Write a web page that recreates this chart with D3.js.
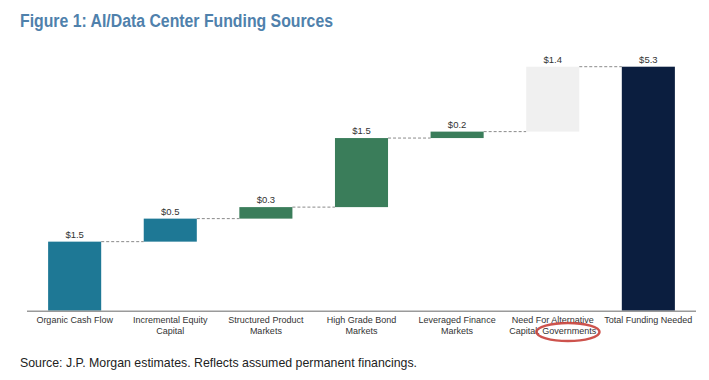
<!DOCTYPE html>
<html>
<head>
<meta charset="utf-8">
<script src="https://cdn.jsdelivr.net/npm/d3@7"></script>
<style>
  html, body { margin: 0; padding: 0; background: #fff; }
  svg { display: block; }
</style>
</head>
<body>
<svg id="chart" width="709" height="380"></svg>
<script>
const categories = [
  ["Organic Cash Flow"],
  ["Incremental Equity", "Capital"],
  ["Structured Product", "Markets"],
  ["High Grade Bond", "Markets"],
  ["Leveraged Finance", "Markets"],
  ["Need For Alternative", "Capital: Governments"],
  ["Total Funding Needed"]
];
const stepValues = [1.5, 0.5, 0.25, 1.5, 0.14, 1.41];
const totalValue = 5.3;
const valueLabels = ["$1.5", "$0.5", "$0.3", "$1.5", "$0.2", "$1.4", "$5.3"];
const barColors = ["#1E7895", "#1E7895", "#3A7D5A", "#3A7D5A", "#3A7D5A", "#F0F0F0", "#0B1E3F"];

const svg = d3.select("#chart");
const keys = categories.map((c, i) => "c" + i);

// build waterfall segments
let cum = 0;
const bars = stepValues.map((v, i) => {
  const b = { key: keys[i], y0: cum, y1: cum + v };
  cum += v;
  return b;
});
bars.push({ key: keys[6], y0: 0, y1: totalValue });

const x = d3.scaleBand().domain(keys).range([29, 694]).paddingInner(0.445).paddingOuter(0.2);
const y = d3.scaleLinear().domain([0, totalValue]).range([310.7, 66.7]);

// title
svg.append("text")
  .attr("x", 20).attr("y", 27)
  .attr("font-family", "Arial, 'Liberation Sans', sans-serif")
  .attr("font-size", 17.5).attr("font-weight", "bold")
  .attr("fill", "#4F81AC")
  .attr("textLength", 313).attr("lengthAdjust", "spacingAndGlyphs")
  .text("Figure 1: AI/Data Center Funding Sources");

// connectors
for (let i = 0; i < bars.length - 1; i++) {
  const level = bars[i].y1;
  svg.append("line")
    .attr("x1", x(bars[i].key) + x.bandwidth())
    .attr("x2", x(bars[i + 1].key))
    .attr("y1", y(level)).attr("y2", y(level))
    .attr("stroke", "#8a8a8a").attr("stroke-width", 1)
    .attr("stroke-dasharray", "3,2");
}

// bars
svg.selectAll("rect.bar").data(bars).join("rect")
  .attr("class", "bar")
  .attr("x", d => x(d.key))
  .attr("width", x.bandwidth())
  .attr("y", d => y(d.y1))
  .attr("height", d => y(d.y0) - y(d.y1))
  .attr("fill", (d, i) => barColors[i]);

// value labels
svg.selectAll("text.val").data(bars).join("text")
  .attr("class", "val")
  .attr("x", d => x(d.key) + x.bandwidth() / 2)
  .attr("y", d => y(d.y1) - 4)
  .attr("text-anchor", "middle")
  .attr("font-family", "Arial, 'Liberation Sans', sans-serif")
  .attr("font-size", 9.5)
  .attr("fill", "#333")
  .text((d, i) => valueLabels[i]);

// axis
const xAxis = d3.axisBottom(x).tickSize(0).tickFormat("");
const gAxis = svg.append("g").attr("transform", `translate(0,${y(0)})`).call(xAxis);
gAxis.select(".domain").attr("d", "M27,0.5H696").attr("stroke", "#9a9a9a").attr("stroke-width", 1.5);

// category labels
categories.forEach((lines, i) => {
  const t = svg.append("text")
    .attr("x", x(keys[i]) + x.bandwidth() / 2)
    .attr("y", 322.5)
    .attr("text-anchor", "middle")
    .attr("font-family", "Arial, 'Liberation Sans', sans-serif")
    .attr("font-size", 9)
    .attr("fill", "#333");
  lines.forEach((l, j) => {
    t.append("tspan").attr("x", x(keys[i]) + x.bandwidth() / 2).attr("dy", j === 0 ? 0 : 11).text(l);
  });
});

// red annotation ellipse
svg.append("ellipse")
  .attr("cx", 568).attr("cy", 332)
  .attr("rx", 31.5).attr("ry", 9)
  .attr("fill", "none")
  .attr("stroke", "#C8403A").attr("stroke-width", 2.5)
  .attr("opacity", 0.9);

// source
svg.append("text")
  .attr("x", 20).attr("y", 367)
  .attr("font-family", "Arial, 'Liberation Sans', sans-serif")
  .attr("font-size", 13.5)
  .attr("fill", "#222")
  .attr("textLength", 397).attr("lengthAdjust", "spacingAndGlyphs")
  .text("Source: J.P. Morgan estimates. Reflects assumed permanent financings.");
</script>
</body>
</html>
